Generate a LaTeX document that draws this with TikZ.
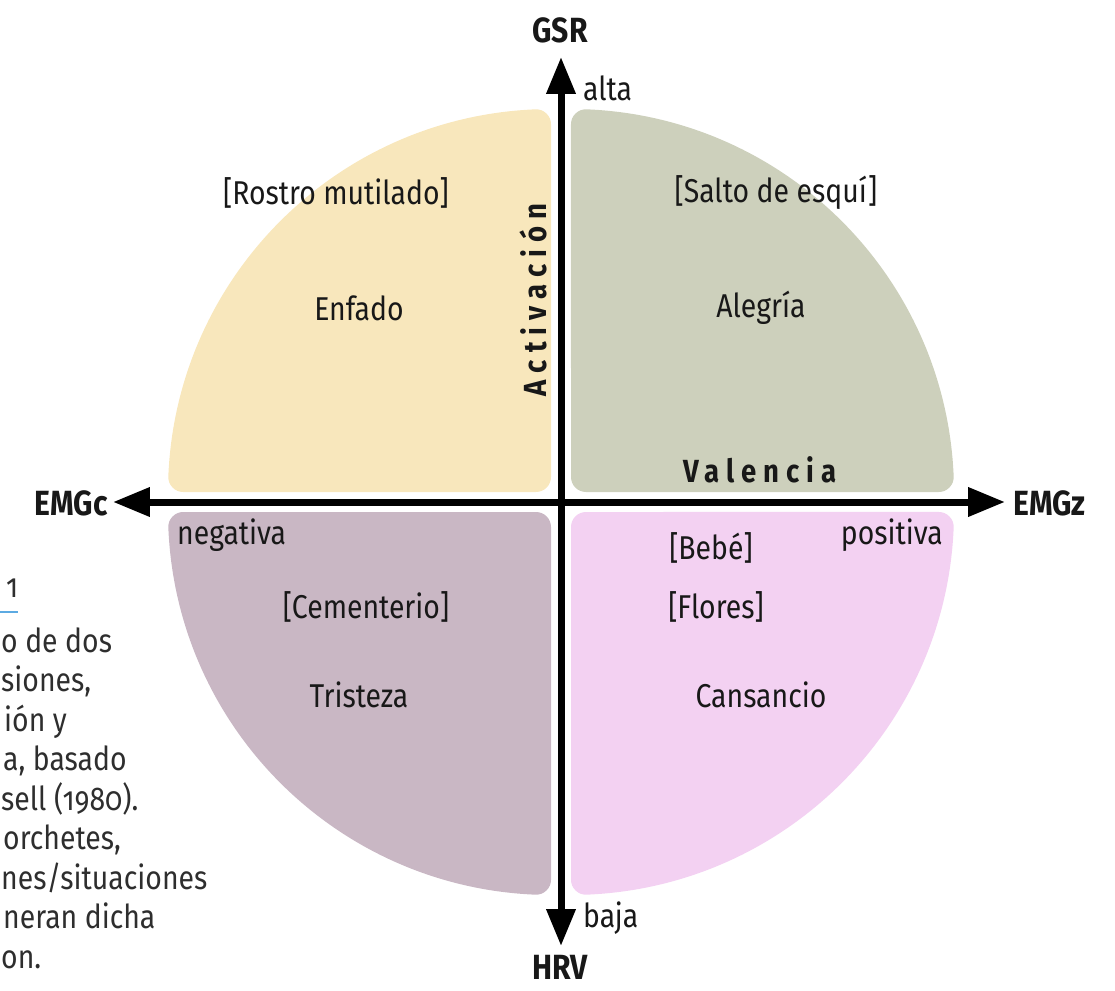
\documentclass[tikz,border=0pt]{standalone}
\usepackage{fontspec}
\setmainfont{Fira Sans}[FakeStretch=0.86]
\usetikzlibrary{arrows.meta}
\definecolor{enfado}{RGB}{248,231,188}
\definecolor{alegria}{RGB}{205,208,188}
\definecolor{tristeza}{RGB}{201,183,196}
\definecolor{cansancio}{RGB}{243,209,242}
\definecolor{ink}{RGB}{24,24,24}
\definecolor{capblue}{RGB}{92,170,226}

\begin{document}
\begin{tikzpicture}[x=1pt, y=1pt,
    quadrant/.style={line width=30pt, line join=round},
    axis/.style={draw=black, line width=7pt, {Triangle[length=37pt,width=28pt]}-{Triangle[length=37pt,width=28pt]}},
    axis name/.style={font=\fontsize{35}{38}\selectfont\bfseries, text=ink, inner sep=0},
    pole/.style={font=\fontsize{33}{36}\selectfont, text=ink, inner sep=0},
    emotion/.style={font=\fontsize{33}{36}\selectfont, text=ink, inner sep=0},
    dim label/.style={font=\fontsize{32}{36}\selectfont\bfseries\addfontfeature{LetterSpace=22}, text=ink, inner sep=0},
    caption/.style={font=\fontsize{33}{36}\selectfont\addfontfeature{Numbers=OldStyle}, text=black!82, anchor=base west, inner sep=0}
  ]
  \def\gap{10}
  \def\rad{383}
  \def\rnd{15}
  \pgfmathsetmacro\rin{\rad-\rnd}
  \pgfmathsetmacro\off{\gap+\rnd}
  \pgfmathsetmacro\ang{asin(\rnd/\rin)}
  \pgfmathsetmacro\xin{\gap+\rin*cos(\ang)}

  \useasboundingbox (-561,-488) rectangle (554,502);

  % quadrants
  \foreach \a/\c in {0/alegria, 90/enfado, 180/tristeza, 270/cansancio}
    \path [quadrant, fill=\c, draw=\c, rotate=\a] (\off,\off) -- (\xin,\off) arc [start angle=\ang, end angle=90-\ang, radius=\rin pt] -- cycle;

  % axes
  \coordinate (n) at (0,445);
  \coordinate (s) at (0,-444);
  \coordinate (w) at (-448,0);
  \coordinate (e) at (444,0);
  \draw [axis] (s) -- (n);
  \draw [axis] (w) -- (e);

  \node [axis name] (gsr) at (-1,472) {GSR};
  \node [axis name] (hrv) at (-1,-465) {HRV};
  \node [axis name, anchor=east] (emgc) at (-453,-1) {EMGc};
  \node [axis name, anchor=west] (emgz) at (452,-1) {EMGz};

  \node [pole, anchor=west] (alta) at (22,414) {alta};
  \node [pole, anchor=west] (baja) at (22,-416) {baja};
  \node [pole, anchor=west] (neg) at (-384,-33) {negativa};
  \node [pole, anchor=east] (pos) at (382,-33) {positiva};

  \node [dim label, rotate=90] (act) at (-28,202) {Activación};
  \node [dim label] (val) at (199,32) {Valencia};

  \begin{scope}[every node/.style={emotion}]
    \node (rostro) at (-225,309) {[Rostro mutilado]};
    \node (enf) at (-202,194) {Enfado};
    \node (salto) at (215,309) {[Salto de esquí]};
    \node (aleg) at (200,194) {Alegría};
    \node (cem) at (-195,-105) {[Cementerio]};
    \node (tris) at (-202,-193) {Tristeza};
    \node (bebe) at (150,-46) {[Bebé]};
    \node (flor) at (155,-105) {[Flores]};
    \node (cans) at (200,-193) {Cansancio};
  \end{scope}

  % caption, cut at the left edge
  \begin{scope}[every node/.style={caption}]
    \node (c0) at (-555,-95) {1};
    \node (c1) at (-560,-150) {o de dos};
    \node (c2) at (-560,-189) {siones,};
    \node (c3) at (-557,-229) {ión y};
    \node (c4) at (-558,-268) {a, basado};
    \node (c5) at (-560,-308) {sell (1980).};
    \node (c6) at (-558,-347) {orchetes,};
    \node (c7) at (-560,-387) {nes/situaciones};
    \node (c8) at (-558,-426) {neran dicha};
    \node (c9) at (-560,-466) {on.};
  \end{scope}
  \draw [capblue, line width=2pt] (-561,-110) -- (c0.east |- 0,-110);
\end{tikzpicture}
\end{document}
